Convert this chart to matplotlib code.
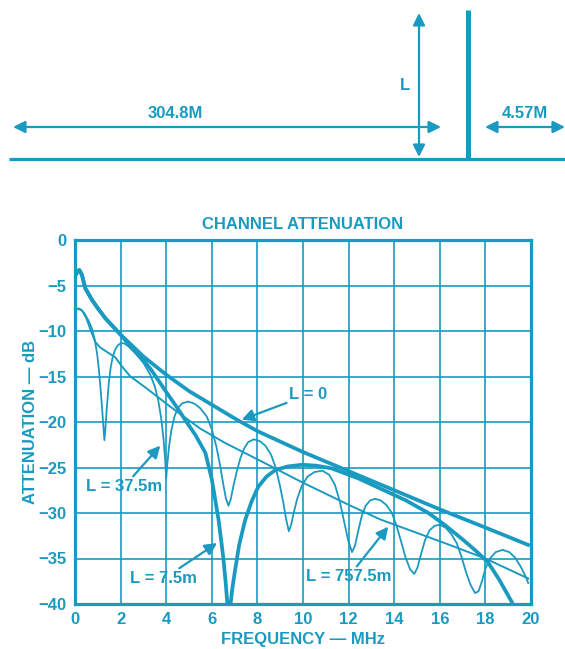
import matplotlib
matplotlib.use('Agg')
import matplotlib.pyplot as plt

plt.rcParams['font.family'] = ['Liberation Sans', 'DejaVu Sans']
plt.rcParams['font.weight'] = 'bold'

C = '#1a9ac0'
FS = 12

# L = 0 (thick)
l0_x = [0, 0.1, 0.19, 0.3, 0.45, 0.75, 1.0, 1.33, 2, 3, 4, 5, 6, 7, 8, 10, 12, 14, 16, 18, 19.87]
l0_y = [-4.0, -3.5, -3.3, -3.8, -5.3, -6.6, -7.5, -8.6, -10.4, -12.8, -14.8, -16.6, -18.1, -19.6,
        -21.0, -23.3, -25.4, -27.5, -29.6, -31.6, -33.5]

# L = 7.5m (thick)
l7_x = [0, 0.1, 0.19, 0.3, 0.45, 0.75, 1.0, 1.33, 2, 2.5, 3, 3.38, 4, 4.5, 4.84, 5.3, 5.72, 6.0,
        6.3, 6.5, 6.6, 6.7, 6.75, 6.8, 6.9, 7.02, 7.2, 7.46, 7.75, 8.04, 8.4, 8.77, 9.3, 9.94,
        10.6, 11.26, 12.43, 13.38, 14.5, 15.5, 16.21, 17, 17.6, 18.11, 18.6, 19.14, 19.4]
l7_y = [-4.0, -3.5, -3.3, -3.8, -5.3, -6.6, -7.5, -8.6, -10.4, -11.9, -13.2, -14.4, -16.7, -18.5,
        -19.8, -21.5, -23.4, -26.3, -30.8, -34.8, -37.4, -40.5, -42, -40.5, -38.3, -36.3, -33.5,
        -30.8, -28.7, -27.1, -26.0, -25.3, -24.9, -24.7, -24.8, -25.1, -26.2, -27.3, -28.6,
        -30.0, -31.3, -32.9, -34.2, -35.4, -37.3, -39.7, -41]

# L = 37.5m (thin, oscillating)
l37_x = [0, 0.2, 0.4, 0.6, 0.75, 0.87, 0.97, 1.05, 1.13, 1.2, 1.25, 1.29, 1.34, 1.4, 1.48, 1.56,
         1.65, 1.75, 1.87, 2.0, 2.15, 2.3, 2.6, 3.0, 3.3, 3.5, 3.65, 3.78, 3.88, 3.95, 4.0, 4.05,
         4.12, 4.22, 4.35, 4.5, 4.7, 4.97, 5.25, 5.5, 5.78, 6.0, 6.2, 6.36, 6.5, 6.62, 6.73, 6.83,
         6.95, 7.09, 7.25, 7.42, 7.6, 7.85, 8.1, 8.35, 8.6, 8.8, 8.98, 9.14, 9.27, 9.38, 9.48,
         9.6, 9.75, 9.95, 10.2, 10.5, 10.85, 11.15, 11.4, 11.6, 11.8, 11.98, 12.15, 12.28, 12.42,
         12.58, 12.75, 12.95, 13.16, 13.4, 13.65, 13.9, 14.1, 14.3, 14.5, 14.7, 14.88, 15.02,
         15.18, 15.35, 15.55, 15.78, 16.0, 16.25, 16.5, 16.74, 16.95, 17.15, 17.35, 17.55, 17.7,
         17.85, 18.0, 18.2, 18.45, 18.75, 19.05, 19.3, 19.55, 19.75, 19.88]
l37_y = [-7.5, -7.55, -8.0, -8.9, -9.8, -11.0, -12.5, -14.3, -16.6, -18.9, -20.7, -22.0, -20.5,
         -18.3, -15.8, -14.1, -12.9, -12.1, -11.6, -11.35, -11.35, -11.6, -12.3, -13.5, -14.8,
         -16.1, -17.6, -19.6, -21.8, -24.0, -26.2, -24.6, -22.8, -21.0, -19.5, -18.5, -17.95,
         -17.75, -18.0, -18.5, -19.4, -20.8, -22.7, -24.7, -26.8, -28.4, -29.2, -28.5, -27.0,
         -25.5, -24.0, -22.9, -22.2, -21.9, -22.1, -22.6, -23.6, -25.0, -26.9, -28.9, -30.8,
         -32.0, -31.3, -29.9, -28.4, -27.0, -26.0, -25.5, -25.35, -25.8, -26.9, -28.6, -30.9,
         -33.0, -34.3, -33.6, -32.0, -30.3, -29.2, -28.6, -28.45, -28.6, -29.1, -30.0, -31.4,
         -33.1, -34.9, -36.2, -36.7, -36.0, -34.5, -33.0, -31.9, -31.4, -31.3, -31.6, -32.3,
         -33.3, -34.8, -36.5, -37.9, -38.8, -38.6, -37.5, -36.1, -35.0, -34.3, -34.05, -34.3,
         -34.9, -35.9, -36.9, -37.7]

# L = 757.5m (thin, smooth)
l757_x = [0, 0.3, 0.5, 0.7, 0.89, 1.1, 1.4, 1.77, 2.06, 2.43, 3.14, 4.17, 5.48, 6.58, 8, 9.94,
          12, 13.38, 16.21, 18, 19.88]
l757_y = [-7.5, -7.7, -8.6, -10.0, -11.2, -11.8, -12.3, -12.9, -13.9, -15.0, -16.3, -18.3, -20.7,
          -22.3, -24.1, -26.6, -29.1, -30.7, -33.3, -35.0, -37.2]

fig = plt.figure(figsize=(5.65, 6.49), dpi=100)

# top diagram, pixel coordinates
d = fig.add_axes([0, 0, 1, 1])
d.set_xlim(0, 565)
d.set_ylim(649, 0)
d.axis('off')
d.plot([9, 565], [159, 159], color=C, lw=2.3, solid_capstyle='butt')
d.plot([468, 468], [10, 159], color=C, lw=3.6, solid_capstyle='butt')
arr = dict(arrowstyle='<|-|>', color=C, lw=1.6, mutation_scale=18, shrinkA=0, shrinkB=0)
d.annotate('', xy=(419, 13), xytext=(419, 157), arrowprops=arr)
d.annotate('', xy=(13, 127), xytext=(441, 127), arrowprops=arr)
d.annotate('', xy=(485, 127), xytext=(565, 127), arrowprops=arr)
d.text(405, 86, 'L', color=C, fontsize=FS, fontweight='bold', ha='center', va='center')
d.text(175, 113, '304.8M', color=C, fontsize=FS, fontweight='bold', ha='center', va='center')
d.text(525, 114, '4.57M', color=C, fontsize=FS, fontweight='bold', ha='center', va='center')

ax = fig.add_axes([75 / 565, 45 / 649, 456 / 565, 364 / 649])
ax.plot(l757_x, l757_y, color=C, lw=1.4)
ax.plot(l37_x, l37_y, color=C, lw=1.3)
ax.plot(l0_x, l0_y, color=C, lw=2.7)
ax.plot(l7_x, l7_y, color=C, lw=2.7)

ax.set_xlim(0, 20)
ax.set_ylim(-40, 0)
ax.set_xticks(range(0, 21, 2))
ax.set_yticks(range(-40, 1, 5))
ax.grid(True, color=C, lw=1.2)
ax.set_axisbelow(True)
for s in ax.spines.values():
    s.set_color(C)
    s.set_linewidth(2.3)
ax.tick_params(length=0, pad=6, labelsize=FS, labelcolor=C)
for lab in ax.get_xticklabels() + ax.get_yticklabels():
    lab.set_fontweight('bold')

ax.set_title('CHANNEL ATTENUATION', color=C, fontsize=FS, fontweight='bold', pad=8)
ax.set_xlabel('FREQUENCY — MHz', color=C, fontsize=FS, fontweight='bold')
ax.set_ylabel('ATTENUATION — dB', color=C, fontsize=FS, fontweight='bold')
ax.xaxis.set_label_coords(0.5, -0.078)
ax.yaxis.set_label_coords(-0.082, 0.5)

ap = dict(arrowstyle='-|>', color=C, lw=1.6, mutation_scale=18, shrinkA=0, shrinkB=0)
ax.annotate('L = 0', xy=(7.31, -19.75), xytext=(9.4, -17.0), color=C, fontsize=FS,
            fontweight='bold', ha='left', va='center', arrowprops=ap)
ax.annotate('L = 37.5m', xy=(3.74, -22.6), xytext=(2.15, -27.1), color=C, fontsize=FS,
            fontweight='bold', ha='center', va='center', arrowprops=ap)
ax.annotate('L = 7.5m', xy=(6.23, -33.3), xytext=(3.9, -37.2), color=C, fontsize=FS,
            fontweight='bold', ha='center', va='center', arrowprops=ap)
ax.annotate('L = 757.5m', xy=(13.74, -31.5), xytext=(12.0, -37.0), color=C, fontsize=FS,
            fontweight='bold', ha='center', va='center', arrowprops=ap)

fig.savefig('out.png', dpi=100)
